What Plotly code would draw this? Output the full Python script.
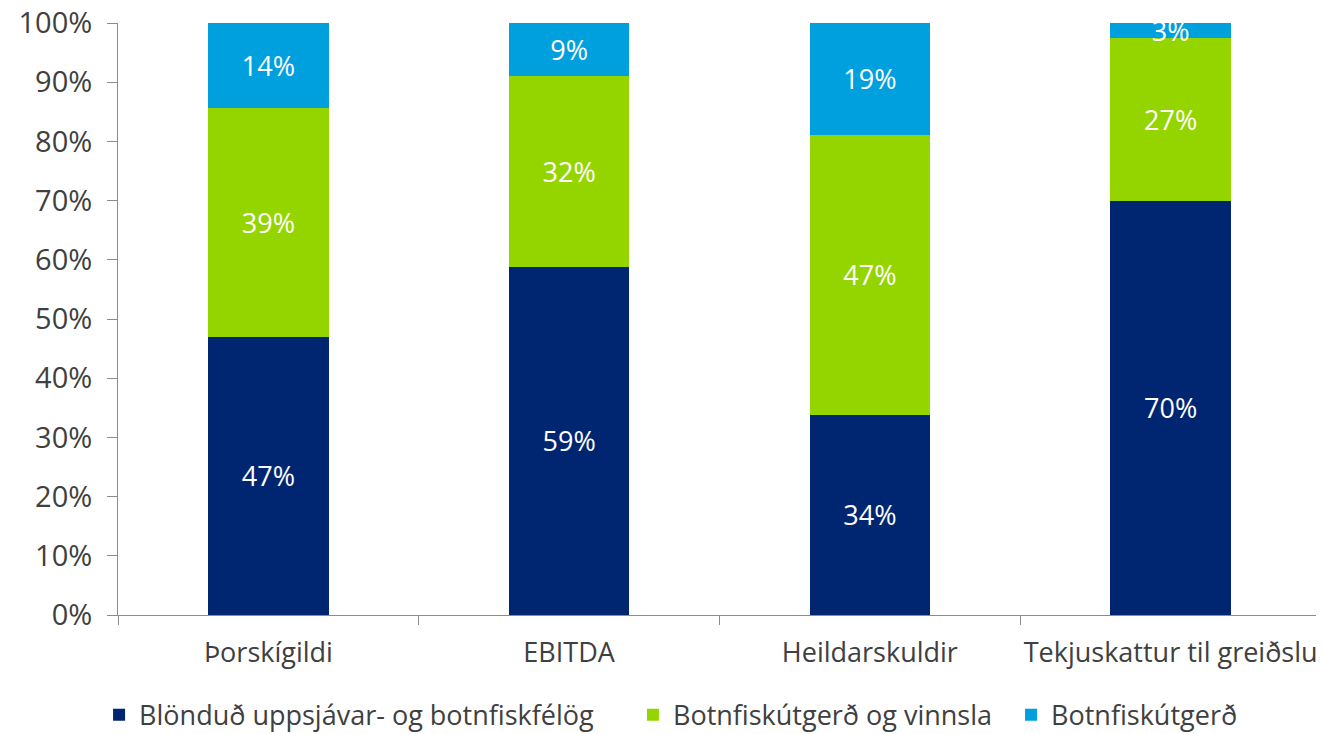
import plotly.graph_objects as go

categories = ["Þorskígildi", "EBITDA", "Heildarskuldir", "Tekjuskattur til greiðslu"]
series_names = ["Blönduð uppsjávar- og botnfiskfélög", "Botnfiskútgerð og vinnsla", "Botnfiskútgerð"]
blandad = [47.0, 58.8, 33.8, 70.0]
botn_vinnsla = [38.6, 32.2, 47.3, 27.4]
botn_utgerd = [14.4, 9.0, 18.9, 2.6]
colors = ["#002672", "#94d500", "#00a0df"]
tick_vals = [0, 10, 20, 30, 40, 50, 60, 70, 80, 90, 100]
tick_text = [f"{v}%" for v in tick_vals]

FONT = "Open Sans"
TXT = "#404040"

fig = go.Figure()
legend_ids = ["legend", "legend2", "legend3"]
for vals, name, col, lg in zip([blandad, botn_vinnsla, botn_utgerd], series_names, colors, legend_ids):
    fig.add_trace(go.Bar(
        x=categories, y=vals, name=name, marker=dict(color=col, line=dict(width=0)),
        text=[f"{round(v)}%" for v in vals], textposition="inside",
        insidetextanchor="middle", textangle=0,
        textfont=dict(color="white", size=27, family=FONT),
        width=0.4, legend=lg, showlegend=True, cliponaxis=True,
    ))

leg_common = dict(orientation="h", yanchor="middle", xanchor="left",
                  xref="container", yref="container", y=0.026,
                  font=dict(size=27, color=TXT, family=FONT), bgcolor="rgba(0,0,0,0)",
                  itemwidth=30, tracegroupgap=0, visible=True)
fig.update_layout(
    barmode="stack",
    width=1316, height=726,
    margin=dict(l=110, r=3, t=15, b=119, autoexpand=False),
    paper_bgcolor="white", plot_bgcolor="white",
    font=dict(family=FONT, color=TXT, size=27),
    showlegend=True,
    uniformtext=dict(mode="show", minsize=27),
    legend=dict(x=0.0692, **leg_common),
    legend2=dict(x=0.4749, **leg_common),
    legend3=dict(x=0.7622, **leg_common),
)
fig.update_yaxes(range=[0, 100], tickvals=tick_vals, ticktext=tick_text,
                 showgrid=False, showline=True, linecolor="#8c8c8c", linewidth=1,
                 ticks="outside", ticklen=10, tickcolor="#8c8c8c",
                 ticklabelstandoff=9, automargin=False, ticklabeloverflow="allow",
                 tickfont=dict(size=29, color=TXT, family=FONT), zeroline=False)
fig.update_xaxes(showgrid=False, showline=True, linecolor="#8c8c8c", linewidth=1,
                 ticks="outside", tickson="boundaries", ticklen=9, tickcolor="#8c8c8c",
                 ticklabelstandoff=14, automargin=False, tickangle=0,
                 ticklabeloverflow="allow",
                 tickfont=dict(size=27, color=TXT, family=FONT))

fig.write_html("out.html")
